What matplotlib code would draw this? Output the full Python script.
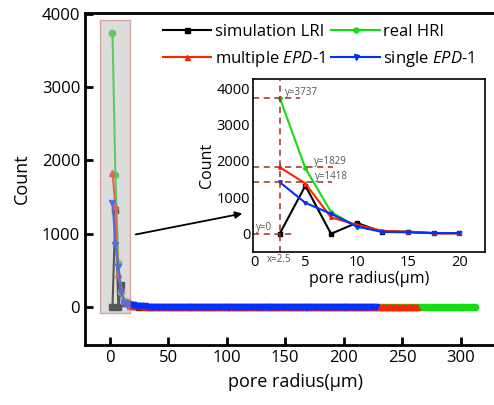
import numpy as np
import matplotlib
matplotlib.use("Agg")
import matplotlib.pyplot as plt
from matplotlib.patches import Rectangle

plt.rcParams['font.family'] = ['Open Sans', 'DejaVu Sans']
plt.rcParams['mathtext.fontset'] = 'custom'
plt.rcParams['mathtext.it'] = 'Open Sans:italic'
plt.rcParams['mathtext.rm'] = 'Open Sans'

# ---- data: first bins (2.5 .. 20 um) ----
head_x = [2.5, 5.0, 7.5, 10.0, 12.5, 15.0, 17.5, 20.0]
sim_lri_head = [0, 1320, 0, 300, 50, 50, 20, 20]
real_hri_head = [3737, 1800, 600, 200, 80, 60, 20, 10]
multi_epd_head = [1829, 1380, 450, 250, 80, 60, 10, 10]
single_epd_head = [1418, 850, 550, 200, 50, 40, 20, 20]

# ---- tails (from 22.5 um onward, step 2.5 um), values near zero ----
sim_lri_tail = [8, 4]
real_hri_tail = [
    9, 7, 6, 5, 4, 4, 3, 3, 3, 2,
    2, 2, 2, 2, 1, 1, 1, 1, 1, 1,
    1, 1, 1, 1, 1, 1, 1, 0, 1, 0,
    1, 0, 0, 1, 0, 0, 0, 1, 0, 0,
    0, 0, 1, 0, 0, 0, 0, 0, 1, 0,
    0, 0, 0, 0, 0, 1, 0, 0, 0, 0,
    0, 0, 0, 0, 0, 0, 1, 0, 0, 0,
    0, 0, 0, 0, 0, 0, 0, 0, 0, 0,
    0, 0, 0, 0, 0, 0, 0, 0, 0, 0,
    0, 0, 0, 0, 0, 0, 0, 0, 0, 0,
    0, 0, 0, 0, 0, 0, 0, 0, 0, 0,
    0, 0, 0, 0, 0, 0, 0]
multi_epd_tail = [
    9, 8, 6, 5, 5, 4, 3, 3, 3, 2,
    2, 2, 2, 1, 1, 1, 1, 1, 1, 1,
    1, 1, 0, 1, 1, 0, 1, 0, 0, 1,
    0, 0, 1, 0, 0, 0, 1, 0, 0, 0,
    0, 0, 0, 1, 0, 0, 0, 0, 0, 0,
    0, 0, 0, 0, 0, 0, 1, 0, 0, 0,
    0, 0, 0, 0, 0, 0, 0, 0, 0, 0,
    0, 0, 0, 0, 0, 0, 0, 0, 0, 0,
    0, 0, 0, 0, 0, 0, 0, 0, 0, 0,
    0, 0, 0, 0, 0, 0, 0]
single_epd_tail = [
    10, 8, 7, 6, 5, 4, 4, 3, 3, 3,
    2, 2, 2, 2, 2, 1, 1, 1, 1, 1,
    1, 1, 1, 1, 0, 1, 1, 0, 1, 0,
    0, 1, 0, 0, 1, 0, 0, 0, 1, 0,
    0, 0, 0, 0, 1, 0, 0, 0, 0, 0,
    0, 0, 0, 0, 0, 0, 0, 0, 0, 0,
    0, 0, 0, 0, 0, 0, 0, 0, 0, 0,
    0, 0, 0, 0, 0, 0, 0, 0, 0, 0,
    0, 0, 0]

labels = ['simulation LRI', 'real HRI', r'multiple $\it{EPD}$-1', r'single $\it{EPD}$-1']
colors = ['#000000', '#11dd11', '#ff2200', '#0030ff']
markers = ['s', 'o', '^', 'v']

heads = [sim_lri_head, real_hri_head, multi_epd_head, single_epd_head]
tails = [sim_lri_tail, real_hri_tail, multi_epd_tail, single_epd_tail]

def full_series(head, tail):
    x = list(head_x) + list(head_x[-1] + 2.5 * np.arange(1, len(tail) + 1))
    y = list(head) + list(tail)
    return x, y

W, H = 494, 405
fig = plt.figure(figsize=(W / 100, H / 100), dpi=100)

ax = fig.add_axes([85 / W, 60 / H, (505 - 85) / W, (345 - 13) / H])
handles = []
for head, tail, c, m, lab in zip(heads, tails, colors, markers, labels):
    x, y = full_series(head, tail)
    h, = ax.plot(x, y, color=c, marker=m, markersize=4.5, lw=1.5, label=lab)
    handles.append(h)

ax.set_xlim(-21, 338)
ax.set_ylim(-520, 4010)
ax.set_xticks([0, 50, 100, 150, 200, 250, 300])
ax.set_yticks([0, 1000, 2000, 3000, 4000])
for s in ['left', 'bottom', 'top', 'right']:
    ax.spines[s].set_linewidth(2)
ax.tick_params(direction='in', length=6, width=2, labelsize=12)
ax.set_xlabel('pore radius(μm)', fontsize=13, labelpad=5)
ax.set_ylabel('Count', fontsize=13, labelpad=8)

# shaded zoom box
ax.add_patch(Rectangle((-8.6, -80), 25.7, 4000, facecolor=(0.71, 0.71, 0.71),
                       alpha=0.47, edgecolor='#c05050', lw=1, zorder=5))

# legend (row-wise order: sim, real / multi, single)
order = [0, 2, 1, 3]
leg = fig.legend(handles=[handles[i] for i in order],
                 labels=[labels[i] for i in order],
                 ncol=2, loc='upper left', bbox_to_anchor=(158 / W, 1 - 19 / H),
                 frameon=False, fontsize=12, handlelength=2.9, handletextpad=0.2,
                 columnspacing=0.4, labelspacing=0.55, markerscale=0.8,
                 borderaxespad=0, borderpad=0.3)

# arrow
ax.annotate('', xy=(245 / W, 1 - 213 / H), xycoords='figure fraction',
            xytext=(133 / W, 1 - 235 / H), textcoords='figure fraction',
            arrowprops=dict(arrowstyle='-|>', color='black', lw=1.3, mutation_scale=10),
            zorder=6)

# inset
ax2 = fig.add_axes([253 / W, (405 - 252) / H, 232 / W, 173 / H])
for head, c, m in zip(heads, colors, markers):
    ax2.plot(head_x, head, color=c, marker=m, markersize=2.5, lw=1.5)
ax2.set_xlim(-0.1, 22.5)
ax2.set_ylim(-500, 4250)
ax2.set_xticks([0, 5, 10, 15, 20])
ax2.set_yticks([0, 1000, 2000, 3000, 4000])
ax2.tick_params(direction='in', length=0, labelsize=10.5, pad=2)
for s in ax2.spines.values():
    s.set_linewidth(1.2)
ax2.set_xlabel('pore radius(μm)', fontsize=11.5, labelpad=1)
ax2.set_ylabel('Count', fontsize=11.5, labelpad=1)

dc = '#a52a2a'
ax2.axvline(2.5, color=dc, ls=(0, (4, 3)), lw=1.1)
ax2.plot([-0.1, 4.5], [3737, 3737], color=dc, ls=(0, (4, 3)), lw=1.1)
ax2.plot([-0.1, 7.7], [1829, 1829], color=dc, ls=(0, (4, 3)), lw=1.1)
ax2.plot([-0.1, 7.6], [1418, 1418], color=dc, ls=(0, (4, 3)), lw=1.1)
ax2.plot([-0.1, 4.0], [0, 0], color=dc, ls=(0, (4, 3)), lw=1.1)
tc = '#555555'
ax2.text(3.0, 3737, 'y=3737', fontsize=7, color=tc, va='bottom')
ax2.text(5.8, 1829, 'y=1829', fontsize=7, color=tc, va='bottom')
ax2.text(5.9, 1418, 'y=1418', fontsize=7, color=tc, va='bottom')
ax2.text(0.2, 20, 'y=0', fontsize=7, color=tc, va='bottom')
ax2.text(1.2, -560, 'x=2.5', fontsize=7, color=tc, va='top')

fig.savefig('out.png', dpi=100)
